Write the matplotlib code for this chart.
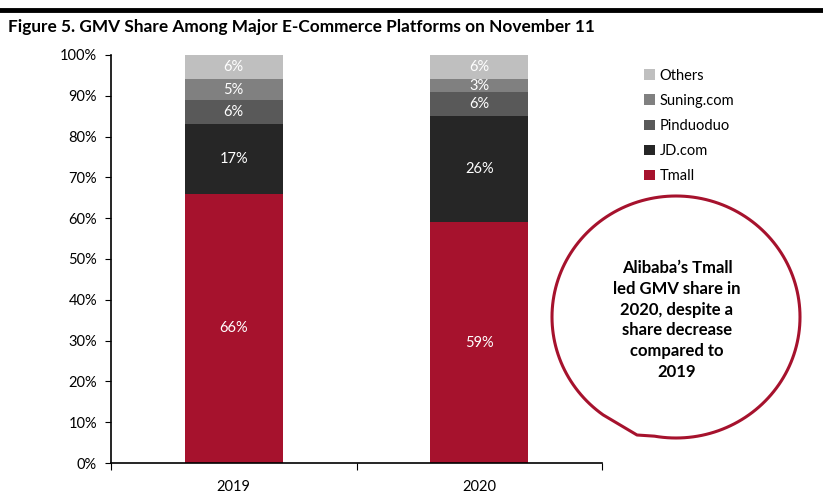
import numpy as np
import matplotlib.pyplot as plt
from matplotlib.patches import Polygon
from matplotlib.lines import Line2D
from matplotlib.ticker import PercentFormatter

plt.rcParams['font.family'] = ['Lato', 'DejaVu Sans']

years = ["2019", "2020"]
platforms = ["Tmall", "JD.com", "Pinduoduo", "Suning.com", "Others"]
tmall = [66, 59]
jd = [17, 26]
pinduoduo = [6, 6]
suning = [5, 3]
others = [6, 6]
colors = ["#A6122D", "#262626", "#595959", "#808080", "#BFBFBF"]

W, H = 823, 494
fig = plt.figure(figsize=(W / 100, H / 100), dpi=100)
ax = fig.add_axes([111 / W, 1 - 463 / H, (602 - 111) / W, (463 - 55) / H])

x = list(range(len(years)))
bottom = [0, 0]
handles = []
for name, vals, c in zip(platforms, [tmall, jd, pinduoduo, suning, others], colors):
    bars = ax.bar(x, vals, width=0.4, bottom=bottom, color=c, label=name)
    for xi, v, b in zip(x, vals, bottom):
        ax.text(xi, b + v / 2, f"{v}%", ha="center", va="center",
                color="white", fontsize=10.5)
    bottom = [b + v for b, v in zip(bottom, vals)]
    handles.append(bars)

ax.set_xlim(-0.5, 1.5)
ax.set_ylim(0, 100)
ax.set_yticks(range(0, 101, 10))
ax.yaxis.set_major_formatter(PercentFormatter(decimals=0))
ax.set_xticks([-0.5, 0.5, 1.5])
ax.set_xticklabels([])
ax.set_xticks(x, minor=True)
ax.set_xticklabels(years, minor=True)
ax.tick_params(axis="x", which="minor", length=0, pad=12, labelsize=10.5)
ax.tick_params(axis="x", which="major", length=5, direction="out")
ax.tick_params(axis="y", length=4, labelsize=10.5, pad=6)
for s in ["top", "right"]:
    ax.spines[s].set_visible(False)
ax.spines["left"].set_linewidth(1.2)
ax.spines["bottom"].set_linewidth(1.2)

fig.legend(handles[::-1], platforms[::-1], loc="upper left",
           bbox_to_anchor=(638 / W, 1 - 63 / H), frameon=False,
           fontsize=10.5, handlelength=0.75, handleheight=0.75,
           handletextpad=0.35, labelspacing=0.76, borderaxespad=0)

# top rule and title
fig.add_artist(Line2D([0, 1], [1 - 10 / H, 1 - 10 / H], color="black", lw=3.5))
fig.text(8 / W, 1 - 27 / H, "Figure 5. GMV Share Among Major E-Commerce Platforms on November 11",
         fontsize=12.4, fontweight="bold", ha="left", va="center")

# callout bubble with a small corner at the lower left
red = "#A6122D"
cx, cy, rx, ry = 676, 317, 124, 121
pts = []
for deg in range(0, 360, 2):
    if 100 < deg < 126:
        if (637, 435) not in pts:
            pts.append((637, 435))
        continue
    t = np.radians(deg)
    pts.append((cx + rx * np.cos(t), cy + ry * np.sin(t)))
fig.add_artist(Polygon([(px / W, 1 - py / H) for px, py in pts], closed=True,
                       transform=fig.transFigure, fill=False, ec=red, lw=2.2,
                       joinstyle="round"))
fig.text(677 / W, 1 - 320 / H,
         "Alibaba\u2019s Tmall\nled GMV share in\n2020, despite a\nshare decrease\ncompared to\n2019",
         ha="center", va="center", fontsize=12, fontweight="bold", linespacing=1.36)

fig.savefig("out.png", dpi=100)
